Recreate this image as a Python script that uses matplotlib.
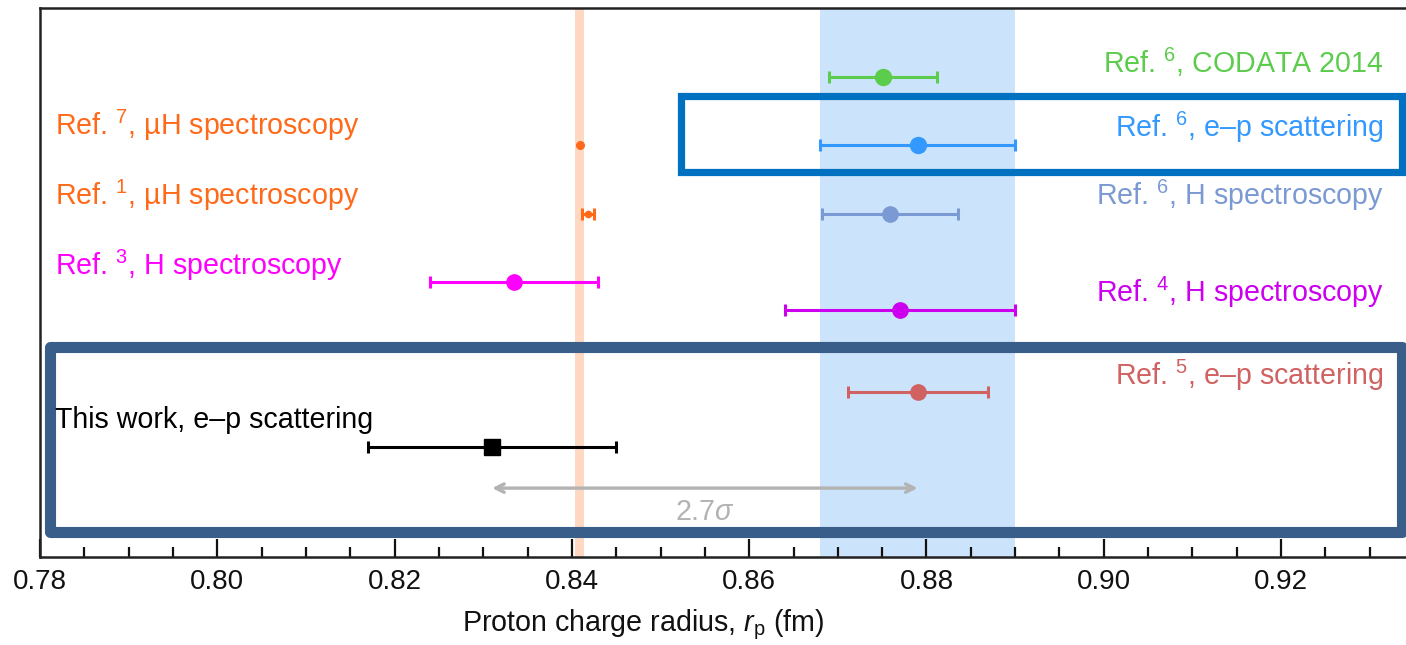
import matplotlib
matplotlib.use("Agg")
import matplotlib.pyplot as plt
from matplotlib.patches import Rectangle
from matplotlib.ticker import MultipleLocator

plt.rcParams["font.family"] = ["Liberation Sans", "DejaVu Sans"]
plt.rcParams["mathtext.fontset"] = "custom"
plt.rcParams["mathtext.rm"] = "Liberation Sans"
plt.rcParams["mathtext.it"] = "Liberation Sans:italic"
plt.rcParams["mathtext.bf"] = "Liberation Sans:bold"

# Proton charge radius results (fm)
labels = [
    "Ref. $^{6}$, CODATA 2014",
    "Ref. $^{6}$, e\u2013p scattering",
    "Ref. $^{6}$, H spectroscopy",
    "Ref. $^{4}$, H spectroscopy",
    "Ref. $^{5}$, e\u2013p scattering",
    "Ref. $^{7}$, \u00b5H spectroscopy",
    "Ref. $^{1}$, \u00b5H spectroscopy",
    "Ref. $^{3}$, H spectroscopy",
    "This work, e\u2013p scattering",
]
radius = [0.8751, 0.879, 0.8759, 0.877, 0.879, 0.84087, 0.84184, 0.8335, 0.831]
error = [0.0061, 0.011, 0.0077, 0.013, 0.0079, 0.00039, 0.00067, 0.0095, 0.014]

# Shaded reference bands: (centre, half-width)
muh_band = (0.84087, 0.0005)
ep_band = (0.879, 0.011)

# Discrepancy arrow between this work and e-p scattering
sigma_from, sigma_to = 0.831, 0.879
sigma_text = "2.7$\\sigma$"

# Layout of the rows
row_y = [8.75, 7.5, 6.25, 4.5, 3.0, 7.5, 6.25, 5.0, 2.0]
label_y = [8.82, 7.65, 6.41, 4.64, 3.13, 7.68, 6.41, 5.13, 2.35]
label_side = ["r", "r", "r", "r", "r", "l", "l", "l", "l"]
colors = ["#5ccc4c", "#3399ff", "#7b9ad3", "#cc00ee", "#d06262",
          "#ff6a1a", "#ff6a1a", "#ff00ff", "#000000"]
markers = ["o", "o", "o", "o", "o", "o", "o", "o", "s"]
msizes = [11.5, 11.5, 11, 11, 11, 5.5, 4.5, 11, 11]
caps = [4.3, 4.3, 4.3, 4.3, 4.3, 0, 4.0, 4.3, 4.3]

fig = plt.figure(figsize=(14.06, 6.45), dpi=100)
ax = fig.add_axes([40 / 1406, (645 - 556.7) / 645, 1366 / 1406, 548.7 / 645])

x_lo, x_hi = 0.78, 0.78 + 1366 / 8865
ax.set_xlim(x_lo, x_hi)
ax.set_ylim(0, 10)

# bands
ax.axvspan(muh_band[0] - muh_band[1], muh_band[0] + muh_band[1],
           color="#ffd8c2", lw=0, zorder=0)
ax.axvspan(ep_band[0] - ep_band[1], ep_band[0] + ep_band[1],
           color="#cce4fb", lw=0, zorder=0)

# highlight boxes
ax.add_patch(Rectangle((0.8523, 7.01), 0.9336 - 0.8523, 8.39 - 7.01,
                       fill=False, ec="#0070c0", lw=5.2, joinstyle="miter",
                       zorder=1, clip_on=False))
ax.add_patch(Rectangle((0.7811, 0.45), 0.9336 - 0.7811, 3.82 - 0.45,
                       fill=False, ec="#3a5e8a", lw=8, joinstyle="round",
                       zorder=1, clip_on=False))

# measurements
for i in range(len(radius)):
    ax.errorbar(radius[i], row_y[i], xerr=error[i], fmt=markers[i],
                color=colors[i], ms=msizes[i], elinewidth=2.2,
                capsize=caps[i], capthick=2.2, zorder=3)
    if label_side[i] == "r":
        ax.text(0.9316, label_y[i], labels[i], color=colors[i], fontsize=20.6,
                ha="right", va="baseline", zorder=4)
    else:
        ax.text(0.7817, label_y[i], labels[i], color=colors[i], fontsize=20.6,
                ha="left", va="baseline", zorder=4)

# 2.7 sigma arrow
ax.annotate("", xy=(sigma_from, 1.25), xytext=(sigma_to, 1.25),
            arrowprops=dict(arrowstyle="<->,head_length=0.6,head_width=0.3",
                            color="#b3b3b3", lw=2.4, shrinkA=0, shrinkB=0),
            zorder=2)
ax.text((sigma_from + sigma_to) / 2, 0.67, sigma_text, color="#b3b3b3",
        fontsize=20.6, ha="center", va="baseline")

# axes styling
ax.spines["right"].set_visible(False)
for s in ("left", "top", "bottom"):
    ax.spines[s].set_linewidth(1.8)
    ax.spines[s].set_color("#222222")
ax.set_yticks([])
ax.xaxis.set_major_locator(MultipleLocator(0.02))
ax.xaxis.set_minor_locator(MultipleLocator(0.005))
ax.tick_params(axis="x", which="major", direction="in", length=13, width=1.6,
               labelsize=20, pad=9, colors="#111111")
ax.tick_params(axis="x", which="minor", direction="in", length=7, width=1.6,
               colors="#111111")
ax.set_xticks([0.78, 0.80, 0.82, 0.84, 0.86, 0.88, 0.90, 0.92])
ax.set_xticklabels(["0.78", "0.80", "0.82", "0.84", "0.86", "0.88", "0.90", "0.92"])

ax.set_xlabel("Proton charge radius, $r_{\\mathrm{p}}$ (fm)", fontsize=20.6,
              color="#111111")
ax.xaxis.set_label_coords((643 - 40) / 1366, -0.092)

fig.savefig("out.png", dpi=100)
